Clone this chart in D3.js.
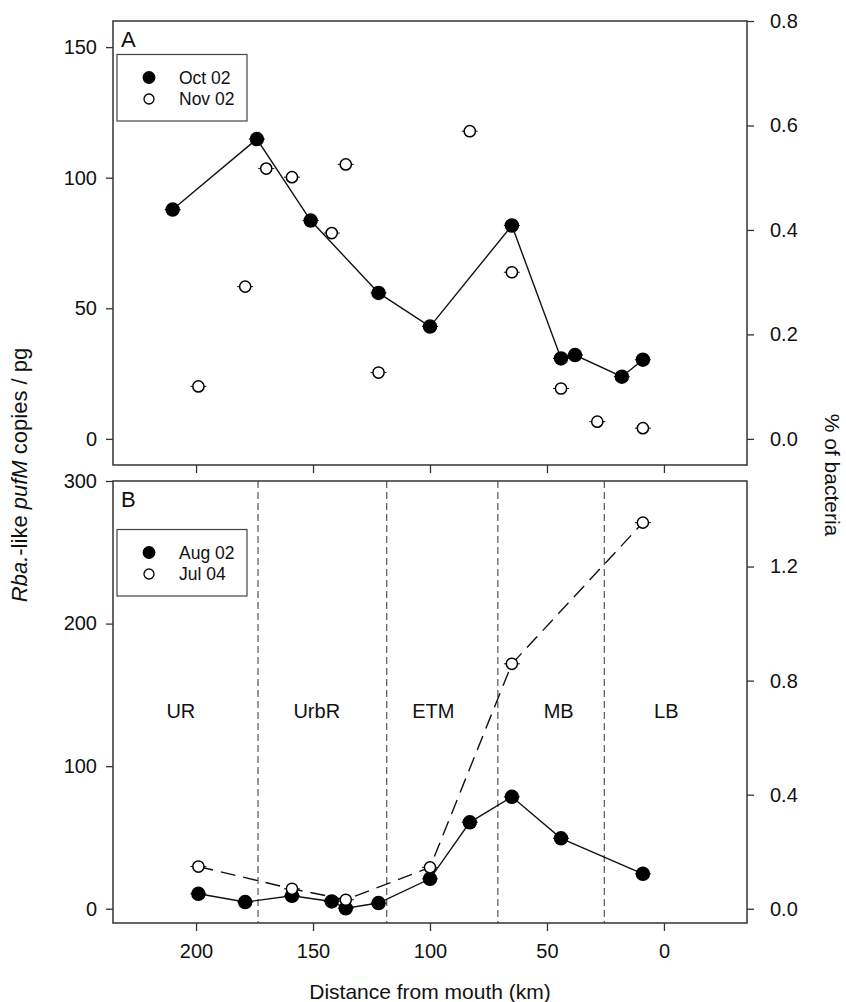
<!DOCTYPE html>
<html>
<head>
<meta charset="utf-8">
<script src="https://cdn.jsdelivr.net/npm/d3@7"></script>
<style>
  body { margin: 0; background: #fff; }
  text { font-family: "Liberation Sans", Arial, sans-serif; fill: #111; }
</style>
</head>
<body>
<div id="chart"></div>
<script>
// distance from mouth (km) and Rba.-like pufM copies / pg
var octKm  = [210, 174, 151, 122, 100, 65, 44, 38, 18, 9];
var octVal = [87.8, 114.8, 83.6, 55.9, 43, 81.7, 30.8, 32.1, 23.8, 30.3];
var novKm  = [199, 179, 170, 159, 142, 136, 122, 83, 65, 44, 28.5, 9];
var novVal = [20.1, 58.3, 103.5, 100.2, 78.8, 105.1, 25.4, 117.8, 63.8, 19.3, 6.6, 4.1];
var augKm  = [199, 179, 159, 142, 136, 122, 100, 83, 65, 44, 9];
var augVal = [10.5, 4.7, 9.1, 5.1, 0.3, 4, 21, 60.6, 78.5, 49.4, 24.5];
var julKm  = [199, 159, 136, 100, 65, 9];
var julVal = [29.6, 14, 6.3, 29, 171.8, 270.8];

// river zones (panel B)
var zoneBounds = [173.5, 118.5, 71, 25.5];
var zoneNames  = ["UR", "UrbR", "ETM", "MB", "LB"];
var zoneMid    = [206.5, 148.4, 98.6, 45, -1];

// ticks
var xTicks   = [200, 150, 100, 50, 0];
var yTicksA  = [0, 50, 100, 150];
var y2TicksA = [0, 0.2, 0.4, 0.6, 0.8];
var yTicksB  = [0, 100, 200, 300];
var y2TicksB = [0, 0.4, 0.8, 1.2];

function zip(xs, ys) { return xs.map(function(d, i) { return {km: d, v: ys[i]}; }); }

var W = 846, H = 1002;
var left = 113, right = 747;
var panA = {top: 21, bottom: 465}, panB = {top: 481, bottom: 923};

var svg = d3.select("#chart").append("svg")
  .attr("width", W).attr("height", H);

var x = d3.scaleLinear().domain([235.5, -35.5]).range([left, right]);

function drawPanel(p, yDom, y2Dom, yT, y2T, showX, letter, series, legend) {
  var y = d3.scaleLinear().domain(yDom).range([p.bottom, p.top]);
  var y2 = d3.scaleLinear().domain(y2Dom).range([p.bottom, p.top]);

  // left axis
  var gl = svg.append("g").attr("transform", "translate(" + left + ",0)")
    .call(d3.axisLeft(y).tickValues(yT).tickSize(7).tickPadding(9));
  // right axis
  var gr = svg.append("g").attr("transform", "translate(" + right + ",0)")
    .call(d3.axisRight(y2).tickValues(y2T).tickSize(7).tickPadding(16).tickFormat(d3.format(".1f")));
  // bottom axis
  var gb = svg.append("g").attr("transform", "translate(0," + p.bottom + ")")
    .call(d3.axisBottom(x).tickValues(xTicks).tickSize(8).tickPadding(13).tickFormat(showX ? d3.format("d") : ""));
  [gl, gr, gb].forEach(function(g) {
    g.select(".domain").remove();
    g.selectAll("line").attr("stroke", "#333").attr("stroke-width", 1.3);
    g.selectAll("text").attr("font-size", "20px").attr("fill", "#111")
      .attr("font-family", "Liberation Sans, Arial, sans-serif");
  });

  // frame
  svg.append("rect")
    .attr("x", left).attr("y", p.top)
    .attr("width", right - left).attr("height", p.bottom - p.top)
    .attr("fill", "none").attr("stroke", "#333").attr("stroke-width", 1.5);

  // panel letter
  svg.append("text").attr("x", 121).attr("y", p.top + 26)
    .attr("font-size", "22px").text(letter);

  var line = d3.line().x(function(d) { return x(d.km); }).y(function(d) { return y(d.v); });

  series.forEach(function(s) {
    var pts = zip(s.km, s.val);
    if (s.line) {
      svg.append("path").datum(pts)
        .attr("d", line)
        .attr("fill", "none").attr("stroke", "#111").attr("stroke-width", 1.4)
        .attr("stroke-dasharray", s.dash || null);
    }
    // small error-bar caps
    svg.append("g").selectAll("line").data(pts).enter().append("line")
      .attr("x1", function(d) { return x(d.km) - 8; })
      .attr("x2", function(d) { return x(d.km) + 8; })
      .attr("y1", function(d) { return y(d.v); })
      .attr("y2", function(d) { return y(d.v); })
      .attr("stroke", "#111").attr("stroke-width", 1);
    svg.append("g").selectAll("circle").data(pts).enter().append("circle")
      .attr("cx", function(d) { return x(d.km); })
      .attr("cy", function(d) { return y(d.v); })
      .attr("r", s.filled ? 6.5 : 5.6)
      .attr("fill", s.filled ? "#000" : "#fff")
      .attr("stroke", "#000").attr("stroke-width", 1.5);
  });

  // legend
  var lg = svg.append("g");
  lg.append("rect").attr("x", 117).attr("y", legend.y)
    .attr("width", 130).attr("height", 66.5)
    .attr("fill", "#fff").attr("stroke", "#444").attr("stroke-width", 1.2);
  series.forEach(function(s, i) {
    var cy = legend.y + 23 + i * 21.5;
    lg.append("circle").attr("cx", 149).attr("cy", cy)
      .attr("r", s.filled ? 5.8 : 5)
      .attr("fill", s.filled ? "#000" : "#fff")
      .attr("stroke", "#000").attr("stroke-width", 1.3);
    lg.append("text").attr("x", 179).attr("y", cy + 6)
      .attr("font-size", "17.5px").text(s.name);
  });

  return y;
}

// panel A
drawPanel(panA, [-10, 160], [-0.05, 0.8], yTicksA, y2TicksA, false, "A", [
  {name: "Oct 02", km: octKm, val: octVal, filled: true, line: true},
  {name: "Nov 02", km: novKm, val: novVal, filled: false, line: false}
], {y: 54.5});

// zone boundaries in panel B (drawn before the data)
svg.append("g").selectAll("line").data(zoneBounds).enter().append("line")
  .attr("x1", function(d) { return x(d); }).attr("x2", function(d) { return x(d); })
  .attr("y1", panB.top).attr("y2", panB.bottom)
  .attr("stroke", "#555").attr("stroke-width", 1.2).attr("stroke-dasharray", "7,4");

svg.append("g").selectAll("text").data(zoneNames).enter().append("text")
  .attr("x", function(d, i) { return x(zoneMid[i]); })
  .attr("y", 718)
  .attr("text-anchor", "middle").attr("font-size", "20px")
  .text(function(d) { return d; });

// panel B
drawPanel(panB, [-10, 300], [-0.05, 1.5], yTicksB, y2TicksB, true, "B", [
  {name: "Aug 02", km: augKm, val: augVal, filled: true, line: true},
  {name: "Jul 04", km: julKm, val: julVal, filled: false, line: true, dash: "15,8"}
], {y: 529.5});

// axis titles
svg.append("text")
  .attr("x", (left + right) / 2).attr("y", 999)
  .attr("text-anchor", "middle").attr("font-size", "21px")
  .text("Distance from mouth (km)");

var yl = svg.append("text")
  .attr("transform", "translate(27,475) rotate(-90)")
  .attr("text-anchor", "middle").attr("font-size", "22px");
yl.append("tspan").attr("font-style", "italic").text("Rba.");
yl.append("tspan").text("-like ");
yl.append("tspan").attr("font-style", "italic").text("pufM");
yl.append("tspan").text(" copies / pg");

svg.append("text")
  .attr("transform", "translate(825,475) rotate(90)")
  .attr("text-anchor", "middle").attr("font-size", "21px")
  .text("% of bacteria");
</script>
</body>
</html>
